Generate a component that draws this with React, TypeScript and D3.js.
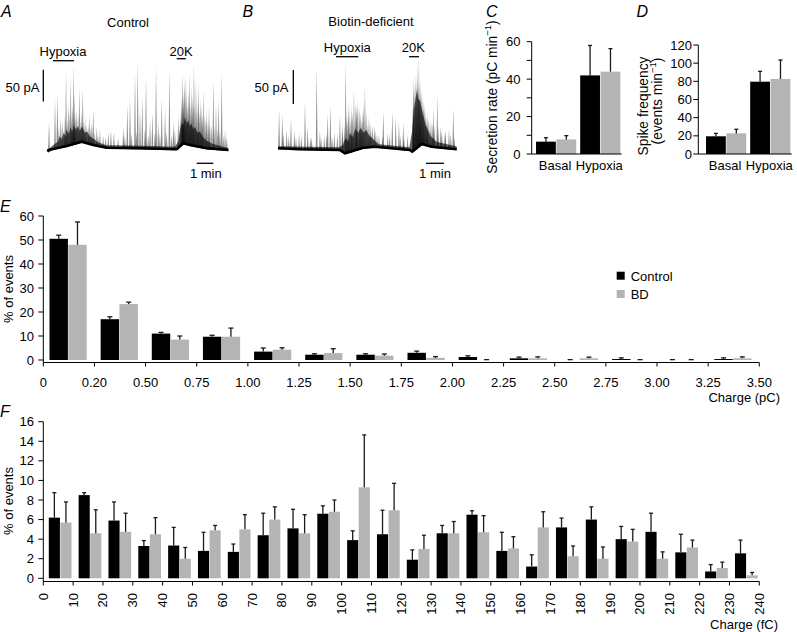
import React from "react";
import * as d3 from "d3";

const FONT = "'Liberation Sans', Arial, Helvetica, sans-serif";
const BLACK = "#000000";
const GREY = "#b4b4b4";
const ERRC = "#1a1a1a";
const SERIES = ["Control", "BD"];

// ---------- Panel A: Control trace (time in min, current in pA) ----------
const A_base: [number, number][] = [
  [0, -1], [0.02, 1.6], [1.12, 7.9], [2.02, 14.7], [2.71, 9.5], [3.51, 5.2],
  [5.51, 4.3], [7.71, 2.7], [8.1, 12.2], [8.5, 9.5], [9.5, 4.3], [10.8, 1.6],
];
const A_spikes: [number, number][] = [
  [0.06, 44], [0.42, 81], [0.56, 91], [0.76, 54], [1.08, 124], [1.22, 75], [1.36, 115],
  [1.52, 136], [1.6, 91], [1.72, 65], [1.88, 99], [2.08, 99], [2.22, 54], [2.47, 57],
  [2.71, 66], [2.92, 38], [3.11, 33], [3.61, 30], [3.77, 33], [3.95, 30], [4.51, 38],
  [4.75, 73], [4.91, 83], [5.21, 124], [5.37, 141], [5.51, 65], [5.65, 86], [5.87, 117],
  [6.11, 49], [6.25, 60], [6.47, 134], [6.6, 44], [6.81, 81], [7.01, 65], [7.27, 127],
  [7.51, 46], [7.8, 54], [8.07, 125], [8.16, 115], [8.26, 120], [8.46, 124], [8.6, 102],
  [8.74, 139], [8.86, 110], [9.02, 107], [9.14, 81], [9.3, 96], [9.5, 65], [9.64, 70],
  [9.9, 112], [10.06, 75], [10.22, 81], [10.4, 123], [10.6, 33],
];
const A_burst: [number, number][] = [
  [0.65, 40], [0.85, 48], [0.95, 35], [1.02, 58], [1.15, 50], [1.3, 62], [1.42, 55],
  [1.48, 70], [1.56, 60], [1.66, 52], [1.8, 58], [1.95, 48], [2.02, 62], [2.15, 45],
  [2.3, 42], [2.4, 40], [2.55, 36], [2.62, 45], [2.8, 30], [3.0, 25], [3.3, 24], [3.45, 22],
  [4.2, 20], [4.6, 25], [5.0, 28], [5.3, 30], [5.8, 35], [6.0, 25], [6.4, 30], [6.7, 28],
  [7.1, 30], [7.4, 25], [7.6, 35],
  [7.92, 60], [8.0, 80], [8.03, 95], [8.1, 90], [8.12, 70], [8.2, 100], [8.3, 85],
  [8.35, 72], [8.4, 95], [8.5, 80], [8.55, 70], [8.65, 88], [8.7, 75], [8.8, 70],
  [8.92, 65], [8.98, 78], [9.08, 60], [9.2, 70], [9.25, 55], [9.38, 58], [9.45, 50],
  [9.58, 48], [9.7, 45], [9.8, 40], [9.95, 38], [10.15, 35], [10.3, 30], [10.5, 25], [10.7, 22],
];
// height of the dense dark band above the baseline (pA)
const A_env: [number, number][] = [
  [0, 3], [0.3, 6], [0.6, 10], [0.7, 18], [0.8, 12], [0.95, 22], [1.05, 15], [1.1, 26],
  [1.25, 18], [1.35, 28], [1.45, 20], [1.55, 30], [1.65, 22], [1.8, 26], [1.9, 18],
  [2.05, 24], [2.2, 16], [2.35, 18], [2.5, 12], [2.7, 10], [3.0, 6], [3.5, 4], [5.0, 4],
  [7.6, 4], [7.8, 10], [7.9, 25], [8.0, 35], [8.1, 28], [8.2, 42], [8.3, 32], [8.4, 38],
  [8.5, 30], [8.6, 34], [8.7, 26], [8.8, 30], [8.95, 22], [9.1, 24], [9.3, 16], [9.5, 12],
  [9.8, 8], [10.2, 6], [10.8, 3],
];

// ---------- Panel B: Biotin-deficient trace ----------
const B_base: [number, number][] = [
  [0, 4], [0.02, 4.0], [1.2, 2.5], [3.44, 1.5], [3.72, -3.4], [4.74, 4.9], [5.39, 6.3],
  [7.33, 1.5], [7.46, -1.0], [7.98, 10.3], [8.54, 6.3], [9.93, 2.5],
];
const B_spikes: [number, number][] = [
  [0.06, 61], [0.24, 54], [0.48, 32], [0.72, 48], [0.91, 30], [1.17, 26], [1.5, 73],
  [1.65, 36], [1.87, 22], [2.15, 122], [2.33, 30], [2.57, 22], [2.76, 56], [2.91, 68],
  [3.13, 28], [3.44, 53], [3.57, 42], [3.76, 131], [3.94, 73], [4.06, 50], [4.22, 91],
  [4.37, 68], [4.5, 64], [4.65, 46], [4.83, 95], [4.98, 41], [5.17, 32], [5.35, 37],
  [5.61, 24], [5.85, 58], [6.09, 26], [6.35, 58], [6.54, 50], [6.72, 43], [6.96, 41],
  [7.2, 24], [7.52, 109], [7.65, 114], [7.76, 129], [7.83, 138], [7.94, 104], [8.07, 75],
  [8.26, 50], [8.44, 41], [8.63, 63], [8.85, 82], [9.04, 36], [9.28, 30], [9.5, 32], [9.74, 63],
];
const B_burst: [number, number][] = [
  [0.3, 25], [0.6, 22], [1.0, 20], [1.3, 22], [1.8, 20], [2.4, 18], [2.7, 25], [3.0, 22], [3.3, 25],
  [3.6, 30], [3.7, 40], [3.8, 55], [3.85, 45], [3.9, 60], [4.0, 52], [4.1, 66], [4.15, 58],
  [4.3, 70], [4.35, 60], [4.42, 75], [4.55, 62], [4.6, 55], [4.7, 60], [4.75, 70], [4.9, 58],
  [5.05, 50], [5.12, 42], [5.25, 38], [5.4, 30], [5.5, 25], [5.8, 22], [6.2, 25], [6.8, 22], [7.0, 20],
  [7.5, 70], [7.55, 90], [7.6, 100], [7.68, 95], [7.72, 110], [7.8, 100], [7.87, 95], [7.9, 85],
  [7.98, 88], [8.02, 80], [8.1, 65], [8.15, 70], [8.2, 60], [8.3, 55], [8.35, 48], [8.5, 45],
  [8.6, 40], [8.7, 38], [8.9, 35], [9.1, 30], [9.3, 28], [9.6, 25], [9.8, 20],
];
const B_env: [number, number][] = [
  [0, 3], [3.4, 4], [3.6, 10], [3.75, 22], [3.9, 16], [4.0, 28], [4.15, 20], [4.3, 32],
  [4.45, 24], [4.6, 30], [4.75, 22], [4.9, 26], [5.05, 18], [5.2, 14], [5.4, 8], [5.6, 4],
  [7.3, 4], [7.45, 30], [7.55, 60], [7.65, 75], [7.72, 85], [7.8, 70], [7.9, 65], [8.0, 50],
  [8.1, 40], [8.2, 30], [8.35, 22], [8.5, 15], [8.8, 8], [9.93, 4],
];

// ---------- Panel C: secretion rate ----------
const C_cats = ["Basal", "Hypoxia"];
const C_control = [6.6, 42];
const C_controlErr = [2.1, 16];
const C_bd = [7.8, 44];
const C_bdErr = [2.0, 12.3];
const C_ticks = [0, 10, 20, 30, 40, 50, 60];
const C_labels = [0, 20, 40, 60];

// ---------- Panel D: spike frequency ----------
const D_cats = ["Basal", "Hypoxia"];
const D_control = [19.5, 79.6];
const D_controlErr = [3.2, 11.4];
const D_bd = [22.7, 82.6];
const D_bdErr = [4.5, 20.9];
const D_ticks = [0, 20, 40, 60, 80, 100, 120];

// ---------- Panel E: charge distribution (pC) ----------
const E_binStart = [0, 0.25, 0.5, 0.75, 1.0, 1.25, 1.5, 1.75, 2.0, 2.25, 2.5, 2.75, 3.0, 3.25];
const E_control = [50.5, 17, 11, 9.7, 3.5, 2.2, 2.2, 3.0, 1.25, 0.7, 0, 0.4, 0, 0.4];
const E_controlErr = [1.5, 1.0, 0.5, 0.6, 1.5, 0.4, 0.4, 0.7, 0.5, 0.5, 0.15, 0.5, 0.15, 0.5];
const E_bd = [48, 23.3, 8.5, 9.7, 4.3, 2.9, 1.8, 0.9, 0, 0.7, 0.7, 0, 0, 0.7];
const E_bdErr = [9.5, 0.8, 1.5, 3.6, 0.8, 1.8, 0.7, 0.5, 0.15, 0.6, 0.5, 0.15, 0.15, 0.6];
const E_tickValues = [0, 0.25, 0.5, 0.75, 1.0, 1.25, 1.5, 1.75, 2.0, 2.25, 2.5, 2.75, 3.0, 3.25, 3.5];
const E_tickLabels = ["0", "0.20", "0.50", "0.75", "1.00", "1.25", "1.50", "1.75", "2.00", "2.25", "2.50", "2.75", "3.00", "3.25", "3.50"];
const E_yTicks = [0, 10, 20, 30, 40, 50, 60];

// ---------- Panel F: charge distribution (fC) ----------
const F_binStart = d3.range(0, 240, 10);
const F_control = [6.2, 8.5, 5.9, 3.3, 3.35, 2.8, 2.7, 4.4, 5.1, 6.6, 3.9, 4.5, 1.9, 4.6, 6.5, 2.8, 1.2, 5.2, 6.0, 4.0, 4.75, 2.65, 0.7, 2.55];
const F_controlErr = [2.55, 0.25, 1.9, 0.55, 1.85, 1.9, 0.8, 2.25, 1.95, 0.8, 0.95, 2.45, 1.0, 0.8, 0.4, 1.9, 1.2, 0.95, 1.3, 1.3, 1.9, 1.85, 0.7, 1.35];
const F_bd = [5.7, 4.6, 4.75, 4.5, 2.0, 4.9, 5.0, 6.0, 4.6, 6.8, 9.3, 6.95, 3.0, 4.6, 4.7, 3.05, 5.2, 2.25, 2.0, 3.75, 2.0, 3.15, 1.05, 0.3];
const F_bdErr = [2.1, 2.4, 1.9, 1.7, 1.15, 0.5, 1.5, 1.3, 1.9, 1.2, 5.35, 2.75, 1.4, 1.2, 1.7, 1.2, 1.6, 1.05, 1.2, 1.25, 0.7, 0.75, 0.6, 0.3];
const F_tickValues = d3.range(0, 250, 10);
const F_yTicks = [0, 2, 4, 6, 8, 10, 12, 14, 16];

type TraceProps = {
  base: [number, number][];
  spikes: [number, number][];
  burst: [number, number][];
  env: [number, number][];
  x: d3.ScaleLinear<number, number>;
  y: d3.ScaleLinear<number, number>;
};

function Trace({ base, spikes, burst, env, x, y }: TraceProps) {
  const baseAt = d3.scaleLinear().domain(base.map(d => d[0])).range(base.map(d => d[1])).clamp(true);
  const area = d3.area<[number, number]>()
    .x(d => x(d[0]))
    .y0(d => y(baseAt(d[0])) + 1)
    .y1(d => y(baseAt(d[0]) + d[1]));
  const line = d3.line<[number, number]>().x(d => x(d[0])).y(d => y(d[1]));
  const spikePath = (d: [number, number], hw: number) => {
    const xs = x(d[0]);
    const yb = y(baseAt(d[0])) + 1;
    return `M${xs - hw},${yb}L${xs},${y(d[1])}L${xs + hw},${yb}Z`;
  };
  return (
    <g>
      <path d={area(env) || ""} fill={BLACK} fillOpacity={0.62} />
      {burst.map((d, i) => (
        <path key={"b" + i} d={spikePath(d, 1.1)} fill={BLACK} fillOpacity={0.4} />
      ))}
      {spikes.map((d, i) => (
        <path key={"s" + i} d={spikePath(d, 0.9)} fill={BLACK} fillOpacity={0.45} />
      ))}
      <path d={line(base) || ""} fill="none" stroke={BLACK} strokeWidth={2.6} />
    </g>
  );
}

function ErrBar({ cx, y0, y1, cap = 5, w = 1.3 }: { cx: number; y0: number; y1: number; cap?: number; w?: number }) {
  return (
    <g stroke={ERRC} strokeWidth={w}>
      <line x1={cx} x2={cx} y1={y0} y2={y1} />
      <line x1={cx - cap / 2} x2={cx + cap / 2} y1={y1} y2={y1} />
    </g>
  );
}

function SmallBars({ cats, control, controlErr, bd, bdErr, r0, y, axisX, ticks, labels, labelRight }: any) {
  const x0 = d3.scaleBand().domain(cats).range([r0, r0 + 87]).paddingInner(0.09).paddingOuter(0.03);
  const x1 = d3.scaleBand().domain(SERIES).range([0, x0.bandwidth()]).paddingInner(0.03);
  const vals = [control, bd];
  const errs = [controlErr, bdErr];
  const cols = [BLACK, GREY];
  const yBottom = y(0);
  return (
    <g>
      {cats.map((c: string, i: number) => (
        <g key={c}>
          {SERIES.map((s, k) => {
            const bx = (x0(c) as number) + (x1(s) as number);
            const v = vals[k][i];
            return (
              <g key={s}>
                <rect x={bx} y={y(v)} width={x1.bandwidth()} height={yBottom - y(v)} fill={cols[k]} />
                <ErrBar cx={bx + x1.bandwidth() / 2} y0={y(v)} y1={y(v + errs[k][i])} cap={4} />
              </g>
            );
          })}
          <text x={(x0(c) as number) + x0.bandwidth() / 2 - 1} y={165} textAnchor="middle" dominantBaseline="central">{c}</text>
        </g>
      ))}
      <line x1={axisX} x2={axisX} y1={y(y.domain()[1])} y2={yBottom} stroke={BLACK} strokeWidth={1} />
      <line x1={axisX} x2={r0 + 87} y1={yBottom} y2={yBottom} stroke={BLACK} strokeWidth={1} />
      {ticks.map((t: number) => (
        <line key={t} x1={axisX - 5} x2={axisX} y1={y(t)} y2={y(t)} stroke={BLACK} strokeWidth={1} />
      ))}
      {labels.map((t: number) => (
        <text key={t} x={labelRight} y={y(t)} textAnchor="end" dominantBaseline="central">{t}</text>
      ))}
    </g>
  );
}

export default function App() {
  // traces
  const xA = d3.scaleLinear().domain([0, 10]).range([48, 48 + 167]);
  const yA = d3.scaleLinear().domain([0, 50]).range([151, 151 - 31.7]);
  const xB = d3.scaleLinear().domain([0, 10]).range([278, 278 + 180]);
  const yB = d3.scaleLinear().domain([0, 50]).range([151, 151 - 34]);

  // C, D
  const yC = d3.scaleLinear().domain([0, 60]).range([154, 41.7]);
  const yD = d3.scaleLinear().domain([0, 120]).range([154, 45]);

  // E
  const xE = d3.scaleLinear().domain([0, 3.5]).range([43.3, 759.3]);
  const yE = d3.scaleLinear().domain([0, 60]).range([360, 216]);
  const subE = d3.scaleBand().domain(SERIES).range([6.2, 43.4]).paddingInner(0.02);
  const axisYE = 362.5;

  // F
  const xF = d3.scaleLinear().domain([0, 240]).range([43.3, 759.3]);
  const yF = d3.scaleLinear().domain([0, 16]).range([578.3, 421.7]);
  const subF = d3.scaleBand().domain(SERIES).range([5.5, 28.2]).paddingInner(0.04);
  const axisYF = 581.5;

  const letter = (t: string, x: number, y: number) => (
    <text x={x} y={y} fontStyle="italic" fontSize={16}>{t}</text>
  );

  const groupBars = (
    starts: number[], control: number[], controlErr: number[], bd: number[], bdErr: number[],
    xs: d3.ScaleLinear<number, number>, ys: d3.ScaleLinear<number, number>, sub: d3.ScaleBand<string>, cap: number
  ) => starts.map((b, i) => {
    const vals = [control[i], bd[i]];
    const errs = [controlErr[i], bdErr[i]];
    return (
      <g key={i}>
        {SERIES.map((s, k) => {
          const bx = xs(b) + (sub(s) as number);
          const v = vals[k];
          return (
            <g key={s}>
              {v > 0 && <rect x={bx} y={ys(v)} width={sub.bandwidth()} height={ys(0) - ys(v)} fill={k === 0 ? BLACK : GREY} />}
              <ErrBar cx={bx + sub.bandwidth() / 2} y0={ys(v)} y1={ys(v + errs[k])} cap={cap} />
            </g>
          );
        })}
      </g>
    );
  });

  return (
    <div style={{ position: "absolute", left: 0, top: 0 }}>
      <svg width={797} height={632} style={{ display: "block", background: "#fff" }}
        fontFamily={FONT} fontSize={13} fill={BLACK}>
        {/* ---------------- A ---------------- */}
        {letter("A", 1, 17)}
        <text x={128} y={22} textAnchor="middle" dominantBaseline="central">Control</text>
        <text x={63} y={51} textAnchor="middle" dominantBaseline="central">Hypoxia</text>
        <line x1={xA(0.3)} x2={xA(1.56)} y1={60.7} y2={60.7} stroke={BLACK} strokeWidth={1.3} />
        <text x={181} y={51} textAnchor="middle" dominantBaseline="central">20K</text>
        <line x1={xA(7.71)} x2={xA(8.25)} y1={58.7} y2={58.7} stroke={BLACK} strokeWidth={1.3} />
        <line x1={43.3} x2={43.3} y1={yA(78)} y2={yA(128)} stroke={BLACK} strokeWidth={1.3} />
        <text x={39.5} y={87.3} textAnchor="end" dominantBaseline="central">50 pA</text>
        <Trace base={A_base} spikes={A_spikes} burst={A_burst} env={A_env} x={xA} y={yA} />
        <line x1={xA(8.9)} x2={xA(9.9)} y1={163.3} y2={163.3} stroke={BLACK} strokeWidth={1.3} />
        <text x={205.8} y={173.3} textAnchor="middle" dominantBaseline="central">1 min</text>

        {/* ---------------- B ---------------- */}
        {letter("B", 242.5, 17)}
        <text x={371} y={21} textAnchor="middle" dominantBaseline="central">Biotin-deficient</text>
        <text x={347.3} y={47.5} textAnchor="middle" dominantBaseline="central">Hypoxia</text>
        <line x1={xB(3.22)} x2={xB(4.46)} y1={56.7} y2={56.7} stroke={BLACK} strokeWidth={1.3} />
        <text x={413.3} y={47.5} textAnchor="middle" dominantBaseline="central">20K</text>
        <line x1={xB(7.28)} x2={xB(7.83)} y1={56.7} y2={56.7} stroke={BLACK} strokeWidth={1.3} />
        <line x1={293.3} x2={293.3} y1={yB(69)} y2={yB(119)} stroke={BLACK} strokeWidth={1.3} />
        <text x={288.5} y={87.3} textAnchor="end" dominantBaseline="central">50 pA</text>
        <Trace base={B_base} spikes={B_spikes} burst={B_burst} env={B_env} x={xB} y={yB} />
        <line x1={xB(8.22)} x2={xB(9.22)} y1={163.3} y2={163.3} stroke={BLACK} strokeWidth={1.3} />
        <text x={435} y={173.3} textAnchor="middle" dominantBaseline="central">1 min</text>

        {/* ---------------- C ---------------- */}
        {letter("C", 486, 17)}
        <text transform="translate(492,97) rotate(-90)" textAnchor="middle" dominantBaseline="central" fontSize={13.8}>
          Secretion rate (pC min<tspan dy={-5} fontSize={9.5}>−1</tspan><tspan dy={5}>)</tspan>
        </text>
        <SmallBars cats={C_cats} control={C_control} controlErr={C_controlErr} bd={C_bd} bdErr={C_bdErr}
          r0={534.7} y={yC} axisX={531.7} ticks={C_ticks} labels={C_labels} labelRight={520.5} />

        {/* ---------------- D ---------------- */}
        {letter("D", 636.5, 17)}
        <text transform="translate(643,106) rotate(-90)" textAnchor="middle" dominantBaseline="central" fontSize={13.8}>Spike frequency</text>
        <text transform="translate(657,101) rotate(-90)" textAnchor="middle" dominantBaseline="central" fontSize={13.8}>
          (events min<tspan dy={-5} fontSize={9.5}>−1</tspan><tspan dy={5}>)</tspan>
        </text>
        <SmallBars cats={D_cats} control={D_control} controlErr={D_controlErr} bd={D_bd} bdErr={D_bdErr}
          r0={704.7} y={yD} axisX={698.3} ticks={D_ticks} labels={D_ticks} labelRight={692} />

        {/* ---------------- E ---------------- */}
        {letter("E", 0, 212)}
        <text transform="translate(8.3,289) rotate(-90)" textAnchor="middle" dominantBaseline="central">% of events</text>
        {groupBars(E_binStart, E_control, E_controlErr, E_bd, E_bdErr, xE, yE, subE, 5)}
        <line x1={43.3} x2={43.3} y1={yE(60)} y2={axisYE} stroke={BLACK} strokeWidth={1} />
        <line x1={43.3} x2={759.3} y1={axisYE} y2={axisYE} stroke={BLACK} strokeWidth={1} />
        {E_yTicks.map(t => (
          <g key={t}>
            <line x1={38.3} x2={43.3} y1={yE(t)} y2={yE(t)} stroke={BLACK} strokeWidth={1} />
            <text x={34} y={yE(t)} textAnchor="end" dominantBaseline="central">{t}</text>
          </g>
        ))}
        {E_tickValues.map((t, i) => (
          <g key={t}>
            <line x1={xE(t)} x2={xE(t)} y1={axisYE} y2={axisYE + 4} stroke={BLACK} strokeWidth={1} />
            <text x={xE(t)} y={382} textAnchor="middle" dominantBaseline="central">{E_tickLabels[i]}</text>
          </g>
        ))}
        <text x={780} y={397} textAnchor="end" dominantBaseline="central">Charge (pC)</text>
        <rect x={616.7} y={271.7} width={8} height={8} fill={BLACK} />
        <text x={630.7} y={276} dominantBaseline="central">Control</text>
        <rect x={616.7} y={290} width={8} height={8} fill={GREY} />
        <text x={630.7} y={294} dominantBaseline="central">BD</text>

        {/* ---------------- F ---------------- */}
        {letter("F", 0, 417)}
        <text transform="translate(8.3,501) rotate(-90)" textAnchor="middle" dominantBaseline="central">% of events</text>
        {groupBars(F_binStart, F_control, F_controlErr, F_bd, F_bdErr, xF, yF, subF, 4)}
        <line x1={43.3} x2={43.3} y1={yF(16)} y2={axisYF} stroke={BLACK} strokeWidth={1} />
        <line x1={43.3} x2={759.3} y1={axisYF} y2={axisYF} stroke={BLACK} strokeWidth={1} />
        {F_yTicks.map(t => (
          <g key={t}>
            <line x1={38.3} x2={43.3} y1={yF(t)} y2={yF(t)} stroke={BLACK} strokeWidth={1} />
            <text x={34} y={yF(t)} textAnchor="end" dominantBaseline="central">{t}</text>
          </g>
        ))}
        {F_tickValues.map(t => (
          <g key={t}>
            <line x1={xF(t)} x2={xF(t)} y1={axisYF} y2={axisYF + 4} stroke={BLACK} strokeWidth={1} />
            <text transform={`translate(${xF(t)},593) rotate(-90)`} textAnchor="end" dominantBaseline="central">{t}</text>
          </g>
        ))}
        <text x={778} y={624} textAnchor="end" dominantBaseline="central">Charge (fC)</text>
      </svg>
    </div>
  );
}
